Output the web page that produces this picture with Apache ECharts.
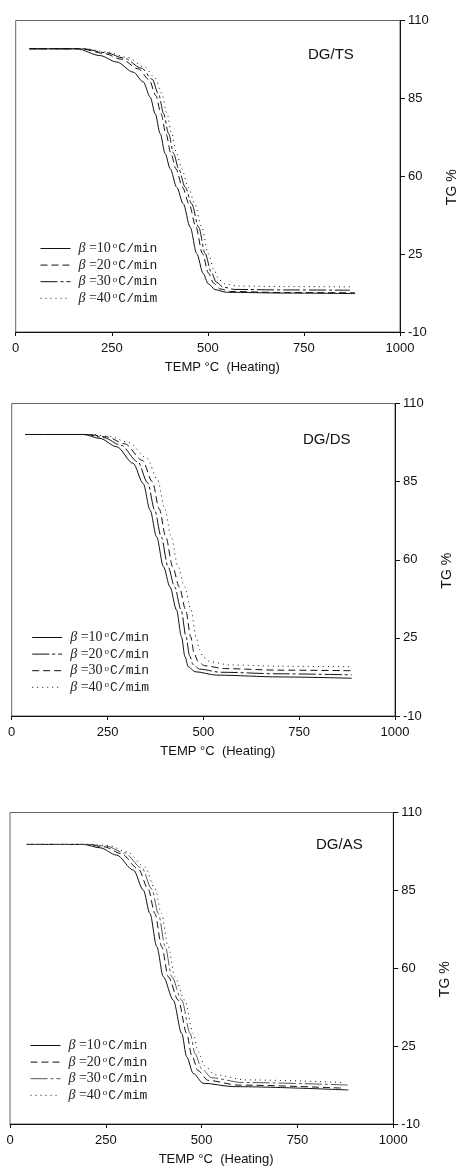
<!DOCTYPE html>
<html>
<head>
<meta charset="utf-8">
<script src="https://cdn.jsdelivr.net/npm/echarts@6/dist/echarts.min.js"></script>
<style>
  html, body { margin: 0; padding: 0; background: #fff; }
  #chart { width: 457px; height: 1168px; }
</style>
</head>
<body>
<div id="chart"></div>
<script>
// ---- data: [temperature °C, TG %] ----
const panelNames = ['DG/TS', 'DG/DS', 'DG/AS'];
const rates = ['10', '20', '30', '40'];
const rateUnits = ['C/min', 'C/min', 'C/min', 'C/mim'];
const xTicks = [0, 250, 500, 750, 1000];
const yTickValues = [-10, 20, 50, 80, 110];
const yTickLabels = ['-10', '25', '60', '85', '110'];

const ts10 = [[36,99.1],[159,99.1],[219,96.5],[263,94.0],[306,90.1],[332,86.3],[350,80.5],[363,74.1],[376,66.4],[389,58.7],[402,52.9],[419,45.8],[436,39.4],[454,30.4],[471,20.2],[488,12.5],[501,8.6],[519,6.3],[549,5.3],[700,5.0],[883,4.8]];
const ts20 = [[36,99.1],[170,99.1],[230,97.3],[275,95.1],[320,91.3],[347,87.2],[365,81.0],[378,74.1],[391,66.4],[404,58.7],[417,52.9],[434,45.8],[451,39.4],[469,30.4],[486,20.2],[502,12.6],[515,8.8],[532,6.6],[560,5.6],[700,5.2],[883,5.1]];
const ts30 = [[36,99.1],[175,99.1],[235,97.6],[282,95.5],[328,91.6],[355,87.4],[372,81.5],[385,74.1],[398,66.4],[411,58.7],[424,52.9],[441,45.8],[458,39.4],[476,30.4],[493,20.2],[509,13.0],[522,9.2],[540,7.3],[570,6.4],[700,6.2],[870,6.1]];
const ts40 = [[36,99.1],[180,99.1],[240,97.8],[290,95.8],[336,92.0],[363,87.8],[380,82.0],[393,74.5],[406,66.4],[419,58.7],[432,52.9],[449,45.8],[466,39.4],[484,30.4],[501,20.2],[517,13.5],[530,10.0],[548,8.3],[580,7.7],[700,7.5],[870,7.4]];

const ds10 = [[35,98.1],[187,98.1],[230,96.6],[274,93.4],[317,87.0],[343,79.3],[361,69.1],[378,58.8],[396,47.3],[413,39.6],[430,30.7],[443,20.4],[452,12.8],[461,8.9],[478,7.0],[535,5.7],[700,5.0],[887,4.5]];
const ds20 = [[35,98.1],[195,98.1],[240,96.9],[285,94.0],[329,87.6],[355,79.5],[373,69.1],[390,58.8],[408,47.3],[425,39.6],[442,30.7],[455,20.4],[464,13.2],[473,9.8],[490,8.0],[545,6.8],[700,6.2],[887,5.8]];
const ds30 = [[35,98.1],[200,98.1],[248,97.2],[295,94.5],[341,88.2],[367,80.0],[385,69.5],[402,58.8],[420,47.3],[437,39.6],[454,30.7],[467,20.4],[476,14.0],[486,11.0],[503,9.3],[555,8.2],[700,7.6],[887,7.4]];
const ds40 = [[35,98.1],[205,98.1],[255,97.4],[305,95.0],[353,89.0],[381,80.5],[399,69.8],[416,58.8],[434,47.3],[451,39.6],[468,30.7],[481,20.4],[490,15.5],[500,12.5],[518,10.8],[570,9.6],[700,9.1],[887,8.9]];

const as10 = [[44,97.7],[191,97.7],[235,96.4],[278,93.6],[322,87.8],[348,80.1],[365,71.1],[383,58.3],[400,46.7],[426,37.7],[448,24.9],[461,15.9],[478,9.5],[504,5.7],[583,4.4],[883,3.1]];
const as20 = [[44,97.7],[200,97.7],[245,96.8],[290,94.2],[335,88.2],[361,80.3],[378,71.1],[396,58.3],[413,46.7],[439,37.7],[461,24.9],[474,16.5],[491,10.5],[517,6.8],[595,5.0],[870,3.8]];
const as30 = [[44,97.7],[205,97.7],[252,97.0],[298,94.5],[344,88.6],[370,80.5],[387,71.1],[405,58.3],[422,46.7],[448,37.7],[470,24.9],[483,17.0],[500,11.3],[526,7.8],[605,6.0],[883,5.0]];
const as40 = [[44,97.7],[210,97.7],[258,97.2],[305,94.9],[352,89.0],[378,80.8],[395,71.1],[413,58.3],[430,46.7],[456,37.7],[478,24.9],[491,17.8],[508,12.5],[534,9.0],[615,7.0],[870,6.0]];

const panelData = [[ts10, ts20, ts30, ts40], [ds10, ds20, ds30, ds40], [as10, as20, as30, as40]];

// ---- styles / layout ----
const SOLID = 'solid', DASH = [7, 4], DASHDOT = [17, 3, 3, 3], DOT = [1, 4];
const lineTypes = [[SOLID, DASH, DASHDOT, DOT], [SOLID, DASHDOT, DASH, DOT], [SOLID, DASH, DASHDOT, DOT]];
const grids = [
  { left: 15.7, top: 20.5, width: 384.3, height: 311.5 },
  { left: 11.7, top: 403.5, width: 383.3, height: 312.5 },
  { left: 10, top: 812.5, width: 383.3, height: 311.5 }
];
const titlePos = [[308, 47], [303, 432], [316, 837]];
const legendPos = [[40, 241.5], [31.7, 630.5], [30, 1038.5]];

const sans = 'Liberation Sans, Arial, sans-serif';

const option = {
  animation: false,
  backgroundColor: '#fff',
  title: panelNames.map(function (t, i) {
    return {
      text: t, left: titlePos[i][0], top: titlePos[i][1], padding: 0,
      textStyle: { fontFamily: sans, fontSize: 15, fontWeight: 'normal', color: '#111' }
    };
  }),
  grid: grids.map(function (g) {
    return Object.assign({
      show: true, borderColor: '#666', borderWidth: 1, backgroundColor: 'transparent',
      containLabel: false, outerBoundsMode: 'none'
    }, g);
  }),
  legend: panelNames.map(function (t, i) {
    return {
      orient: 'vertical', left: legendPos[i][0], top: legendPos[i][1], padding: 0,
      itemWidth: 30, itemHeight: 10, itemGap: 2.6,
      itemStyle: { opacity: 0, borderWidth: 0 },
      lineStyle: { width: 1 },
      data: rates.map(function (r) { return t + ' ' + r; }),
      formatter: function (name) {
        const k = rates.indexOf(name.split(' ')[1]);
        return '{b|β}{t| =' + rates[k] + '}{o|o}{m|' + rateUnits[k] + '}';
      },
      textStyle: {
        padding: [0, 0, 0, 3],
        rich: {
          b: { fontFamily: 'Liberation Serif', fontStyle: 'italic', fontSize: 14, lineHeight: 14, color: '#222' },
          t: { fontFamily: 'Liberation Serif', fontSize: 14, lineHeight: 14, color: '#222' },
          o: { fontFamily: 'Liberation Serif', fontSize: 9, lineHeight: 14, verticalAlign: 'top', padding: [0, 1, 0, 2], color: '#222' },
          m: { fontFamily: 'Liberation Mono', fontSize: 13, lineHeight: 14, color: '#222' }
        }
      }
    };
  }),
  xAxis: grids.map(function (g, i) {
    return {
      type: 'value', gridIndex: i, min: 0, max: 1000, interval: 250,
      name: 'TEMP °C  (Heating)', nameLocation: 'middle', nameGap: 29,
      nameTextStyle: { fontFamily: sans, fontSize: 13, color: '#111', padding: [0, 0, 0, 29] },
      axisLine: { onZero: false, lineStyle: { color: '#111', width: 1 } },
      axisTick: { show: true, inside: false, length: 4, lineStyle: { color: '#111' } },
      axisLabel: { fontFamily: sans, fontSize: 13, color: '#111', margin: 10,
        formatter: function (v) { return xTicks.indexOf(v) >= 0 ? String(v) : ''; } },
      splitLine: { show: false }
    };
  }),
  yAxis: grids.map(function (g, i) {
    return {
      type: 'value', gridIndex: i, position: 'right', min: -10, max: 110, interval: 30,
      name: 'TG %', nameLocation: 'middle', nameGap: 45, nameRotate: 90,
      nameTextStyle: { fontFamily: sans, fontSize: 14, color: '#111', padding: [0, 22, 0, 0] },
      axisLine: { show: true, onZero: false, lineStyle: { color: '#111', width: 1 } },
      axisTick: { show: true, inside: false, length: 5, lineStyle: { color: '#111' } },
      axisLabel: { fontFamily: sans, fontSize: 13, color: '#111', margin: 8,
        formatter: function (v) { return yTickLabels[yTickValues.indexOf(v)]; } },
      splitLine: { show: false }
    };
  }),
  series: []
};

panelNames.forEach(function (t, i) {
  rates.forEach(function (r, k) {
    const col = (i === 2 && k === 2) ? '#555' : '#111';
    option.series.push({
      name: t + ' ' + r,
      type: 'line',
      xAxisIndex: i,
      yAxisIndex: i,
      data: panelData[i][k],
      symbol: 'none',
      smooth: 0.3,
      smoothMonotone: 'x',
      itemStyle: { color: col },
      lineStyle: { color: col, width: 1, type: lineTypes[i][k] }
    });
  });
});

const myChart = echarts.init(document.getElementById('chart'), null, { renderer: 'canvas' });
myChart.setOption(option);
</script>
</body>
</html>
